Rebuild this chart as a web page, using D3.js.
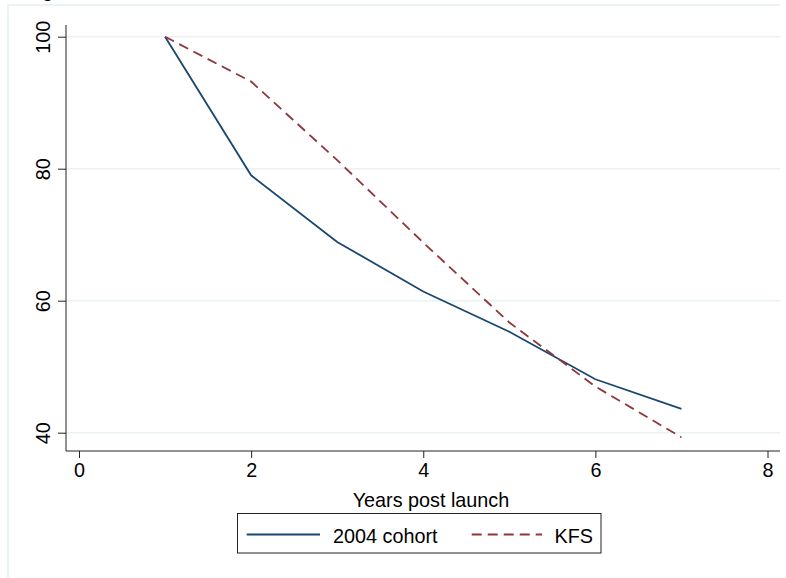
<!DOCTYPE html>
<html><head><meta charset="utf-8">
<script src="https://cdn.jsdelivr.net/npm/d3@7"></script>
<style>body{margin:0;background:#fff}svg{display:block;font-family:"Liberation Sans",Arial,sans-serif}</style>
</head><body>
<script>
const years = [1, 2, 3, 4, 5, 6, 7];
const cohort2004 = [100, 79.0, 68.9, 61.4, 55.3, 48.1, 43.6];
const kfs = [100, 93.2, 81.3, 68.8, 56.7, 47.0, 39.3];
const xTicks = [0, 2, 4, 6, 8];
const yTicks = [40, 60, 80, 100];
const seriesNames = ["2004 cohort", "KFS"];
const seriesColors = ["#1a476f", "#90353b"];

const W = 786, H = 578, FS = 19.8;
const svg = d3.select("body").append("svg").attr("width", W).attr("height", H);

// outer frame
svg.append("path").attr("d", `M8,${H+5}V5H780`).attr("fill", "none")
  .attr("stroke", "#eaf2f3").attr("stroke-width", 2);
// clipped title descender (cut off in the reference too)
svg.append("text").attr("x", 42).attr("y", -3).attr("font-size", 20).attr("fill", "#000").text("g");

const plotL = 66, plotR = 780, plotT = 25, plotB = 451;
const x = d3.scaleLinear().domain([0, 8]).range([79, 767.5]);
const y = d3.scaleLinear().domain([40, 100]).range([432.7, 36.7]);

// gridlines
svg.append("g").selectAll("line").data(yTicks).join("line")
  .attr("x1", plotL).attr("x2", plotR).attr("y1", d => y(d)).attr("y2", d => y(d))
  .attr("stroke", "#eaf2f3").attr("stroke-width", 1.5);

// axes
const yAxis = d3.axisLeft(y).tickValues(yTicks).tickSize(8);
const gy = svg.append("g").attr("transform", `translate(${plotL},0)`).call(yAxis);
gy.select(".domain").attr("d", `M0,${plotT}V${plotB}`);
gy.selectAll(".tick text")
  .attr("font-size", FS).attr("font-family", "Liberation Sans, Arial, sans-serif").attr("fill", "#000")
  .attr("text-anchor", "middle").attr("x", 0).attr("y", 0).attr("dy", 0)
  .attr("transform", "translate(-16,0) rotate(-90)");

const xAxis = d3.axisBottom(x).tickValues(xTicks).tickSize(7).tickPadding(5);
const gx = svg.append("g").attr("transform", `translate(0,${plotB})`).call(xAxis);
gx.select(".domain").attr("d", `M${plotL},0H${plotR}`);
gx.selectAll(".tick text").attr("font-size", FS).attr("font-family", "Liberation Sans, Arial, sans-serif").attr("fill", "#000");
svg.selectAll(".domain, .tick line").attr("stroke", "#222");

// axis title
svg.append("text").attr("x", 431).attr("y", 506.5).attr("text-anchor", "middle")
  .attr("font-size", FS).text("Years post launch");

// lines
const line = d3.line().x((d, i) => x(years[i])).y(d => y(d));
svg.append("path").datum(cohort2004).attr("d", line).attr("fill", "none")
  .attr("stroke", seriesColors[0]).attr("stroke-width", 1.8);
svg.append("path").datum(kfs).attr("d", line).attr("fill", "none")
  .attr("stroke", seriesColors[1]).attr("stroke-width", 1.8).attr("stroke-dasharray", "10,6");

// legend
svg.append("rect").attr("x", 237.5).attr("y", 513.5).attr("width", 363.5).attr("height", 39.5)
  .attr("fill", "#fff").attr("stroke", "#222").attr("stroke-width", 1);
const lg = [
  {x1: 246.7, x2: 320, tx: 333, dash: null},
  {x1: 471.7, x2: 542, tx: 554.5, dash: "10,6"}
];
lg.forEach((l, i) => {
  svg.append("line").attr("x1", l.x1).attr("x2", l.x2).attr("y1", 534.5).attr("y2", 534.5)
    .attr("stroke", seriesColors[i]).attr("stroke-width", 1.8).attr("stroke-dasharray", l.dash);
  svg.append("text").attr("x", l.tx).attr("y", 542.5).attr("font-size", FS).text(seriesNames[i]);
});
</script>
</body></html>
